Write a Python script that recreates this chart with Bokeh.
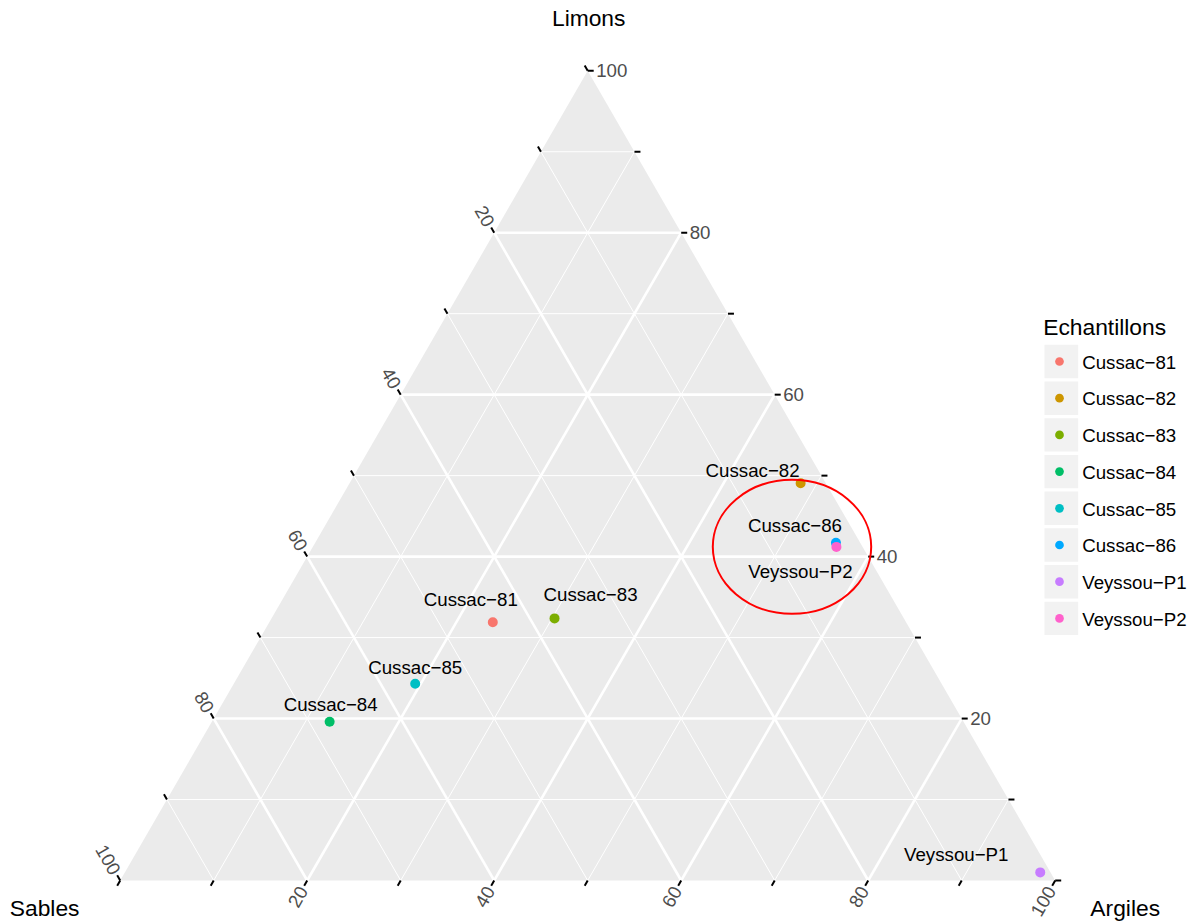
import math
from bokeh.plotting import figure
from bokeh.models import ColumnDataSource, Range1d
from bokeh.core.properties import value
from bokeh.embed import file_html
from bokeh.resources import INLINE

# ---------------- data ----------------
samples = ["Cussac−81", "Cussac−82", "Cussac−83", "Cussac−84",
           "Cussac−85", "Cussac−86", "Veyssou−P1", "Veyssou−P2"]
sables = [44.2, 2.7, 37.4, 67.8, 56.3, 2.6, 1.1, 2.8]
limons = [31.9, 49.0, 32.4, 19.6, 24.3, 41.7, 1.0, 41.2]
argiles = [23.9, 48.2, 30.3, 12.6, 19.4, 55.7, 97.9, 56.0]
colors = ["#F8766D", "#CD9600", "#7CAE00", "#00BE67",
          "#00BFC4", "#00A9FF", "#C77CFF", "#FF61CC"]
tick_values = [0, 10, 20, 30, 40, 50, 60, 70, 80, 90, 100]
label_values = [20, 40, 60, 80, 100]
major_grid = [20, 40, 60, 80]
minor_grid = [10, 30, 50, 70, 90]
axis_titles = ["Sables", "Limons", "Argiles"]
legend_title = "Echantillons"

# label offsets (pixels, screen: +x right, +y down)
label_dx = [-22, -48, 36, 1, 0, -41, -84, -36]
label_dy = [-23, -13, -24, -17, -16, -17, -18, 25]

# ---------------- layout ----------------
SCALE = 935.0          # pixels per unit of triangle side
X0_IMG, Y0_IMG = 119.7, 880.0   # bottom-left vertex in page pixels
PAGE = 0
W, H = 1196, 923
H3 = math.sqrt(3) / 2
PX = 1.0 / SCALE


def img(xi, yi):
    return (xi - X0_IMG) / SCALE, (Y0_IMG - yi) / SCALE


def tern(s, l, a):
    t = s + l + a
    L = l / t
    A = a / t
    return A + L / 2, L * H3


p = figure(width=W, height=H, output_backend="svg", toolbar_location=None,
           x_axis_location=None, y_axis_location=None, min_border=0,
           x_range=Range1d((PAGE - X0_IMG) / SCALE, (PAGE + W - X0_IMG) / SCALE),
           y_range=Range1d((Y0_IMG - PAGE - H) / SCALE, (Y0_IMG - PAGE) / SCALE))
p.outline_line_color = None
p.grid.visible = False
p.background_fill_color = "white"
p.border_fill_color = "white"

# triangle background
tri = [tern(100, 0, 0), tern(0, 0, 100), tern(0, 100, 0)]
p.patch([q[0] for q in tri], [q[1] for q in tri], fill_color="#EBEBEB", line_color=None)


def grid_segments(vals):
    x0, y0, x1, y1 = [], [], [], []
    for v in vals:
        for a, b in [(tern(100 - v, v, 0), tern(0, v, 100 - v)),
                     (tern(100 - v, 0, v), tern(0, 100 - v, v)),
                     (tern(v, 100 - v, 0), tern(v, 0, 100 - v))]:
            x0.append(a[0]); y0.append(a[1]); x1.append(b[0]); y1.append(b[1])
    return x0, y0, x1, y1


gx0, gy0, gx1, gy1 = grid_segments(minor_grid)
p.segment(gx0, gy0, gx1, gy1, line_color="white", line_width=1.0)
gx0, gy0, gx1, gy1 = grid_segments(major_grid)
p.segment(gx0, gy0, gx1, gy1, line_color="white", line_width=2.6)

# ticks
TICK = 6 * PX
GAP = 2.5 * PX
tx0, ty0, tx1, ty1 = [], [], [], []
lab_x, lab_y, lab_t, lab_ang, lab_align = [], [], [], [], []
dirs = {"L": (1.0, 0.0), "A": (-0.5, -H3), "S": (-0.5, H3)}
for v in tick_values:
    for key, pt in [("L", tern(0, v, 100 - v)),
                    ("A", tern(100 - v, 0, v)),
                    ("S", tern(v, 100 - v, 0))]:
        dx, dy = dirs[key]
        tx0.append(pt[0]); ty0.append(pt[1])
        tx1.append(pt[0] + dx * TICK); ty1.append(pt[1] + dy * TICK)
        if v in label_values:
            lab_x.append(pt[0] + dx * (TICK + GAP))
            lab_y.append(pt[1] + dy * (TICK + GAP))
            lab_t.append(str(v))
            if key == "L":
                lab_ang.append(0.0); lab_align.append("left")
            elif key == "A":
                lab_ang.append(math.pi / 3); lab_align.append("right")
            else:
                lab_ang.append(-math.pi / 3); lab_align.append("right")
p.segment(tx0, ty0, tx1, ty1, line_color="black", line_width=2.0)
p.text(x=lab_x, y=lab_y, text=lab_t, angle=lab_ang, text_align=lab_align,
       text_baseline="middle", text_font=value("Liberation Sans"),
       text_font_size="18.7px", text_color="#4D4D4D")

# axis titles
bl = tern(100, 0, 0); top = tern(0, 100, 0); br = tern(0, 0, 100)
p.text(x=[bl[0] - 40.7 * PX], y=[bl[1] - 27 * PX], text=[axis_titles[0]],
       text_align="right", text_baseline="middle",
       text_font=value("Liberation Sans"), text_font_size="22.8px", text_color="black")
p.text(x=[top[0] + 1 * PX], y=[top[1] + 53 * PX], text=[axis_titles[1]],
       text_align="center", text_baseline="middle",
       text_font=value("Liberation Sans"), text_font_size="22.8px", text_color="black")
p.text(x=[br[0] + 70 * PX], y=[br[1] - 27 * PX], text=[axis_titles[2]],
       text_align="center", text_baseline="middle",
       text_font=value("Liberation Sans"), text_font_size="22.8px", text_color="black")

# points
pts = [tern(s, l, a) for s, l, a in zip(sables, limons, argiles)]
src = ColumnDataSource(dict(
    x=[q[0] for q in pts], y=[q[1] for q in pts], name=samples, color=colors,
    lx=[q[0] + dx * PX for q, dx in zip(pts, label_dx)],
    ly=[q[1] - dy * PX for q, dy in zip(pts, label_dy)],
))
p.text(x="lx", y="ly", text="name", source=src, text_align="center",
       text_baseline="middle", text_font=value("Liberation Sans"),
       text_font_size="18.7px", text_color="black")
p.scatter(x="x", y="y", color="color", size=10, source=src, line_color=None)

# red ellipse annotation
ecx, ecy = img(791.5, 546.3)
p.ellipse(x=[ecx], y=[ecy], width=158.4 * PX, height=134 * PX,
          fill_color=None, line_color="red", line_width=2)

# manual legend
tx, ty = img(1042.7, 326)
p.text(x=[tx], y=[ty], text=[legend_title], text_align="left", text_baseline="middle",
       text_font=value("Liberation Sans"), text_font_size="22.8px", text_color="black")
key_x, _ = img(1060.8, 0)
dot_x, _ = img(1059.0, 0)
txt_x, _ = img(1081.7, 0)
key_cy = [img(0, 361.0 + i * 36.7)[1] for i in range(len(samples))]
p.rect(x=[key_x] * len(samples), y=key_cy, width=33.7 * PX, height=33.4 * PX,
       fill_color="#F2F2F2", line_color=None)
p.scatter(x=[dot_x] * len(samples), y=key_cy, color=colors, size=8.7, line_color=None)
p.text(x=[txt_x] * len(samples), y=[c - 0.7 * PX for c in key_cy], text=samples,
       text_align="left", text_baseline="middle", text_font=value("Liberation Sans"),
       text_font_size="18.7px", text_color="black")

open("out.html", "w").write(file_html(p, INLINE))
